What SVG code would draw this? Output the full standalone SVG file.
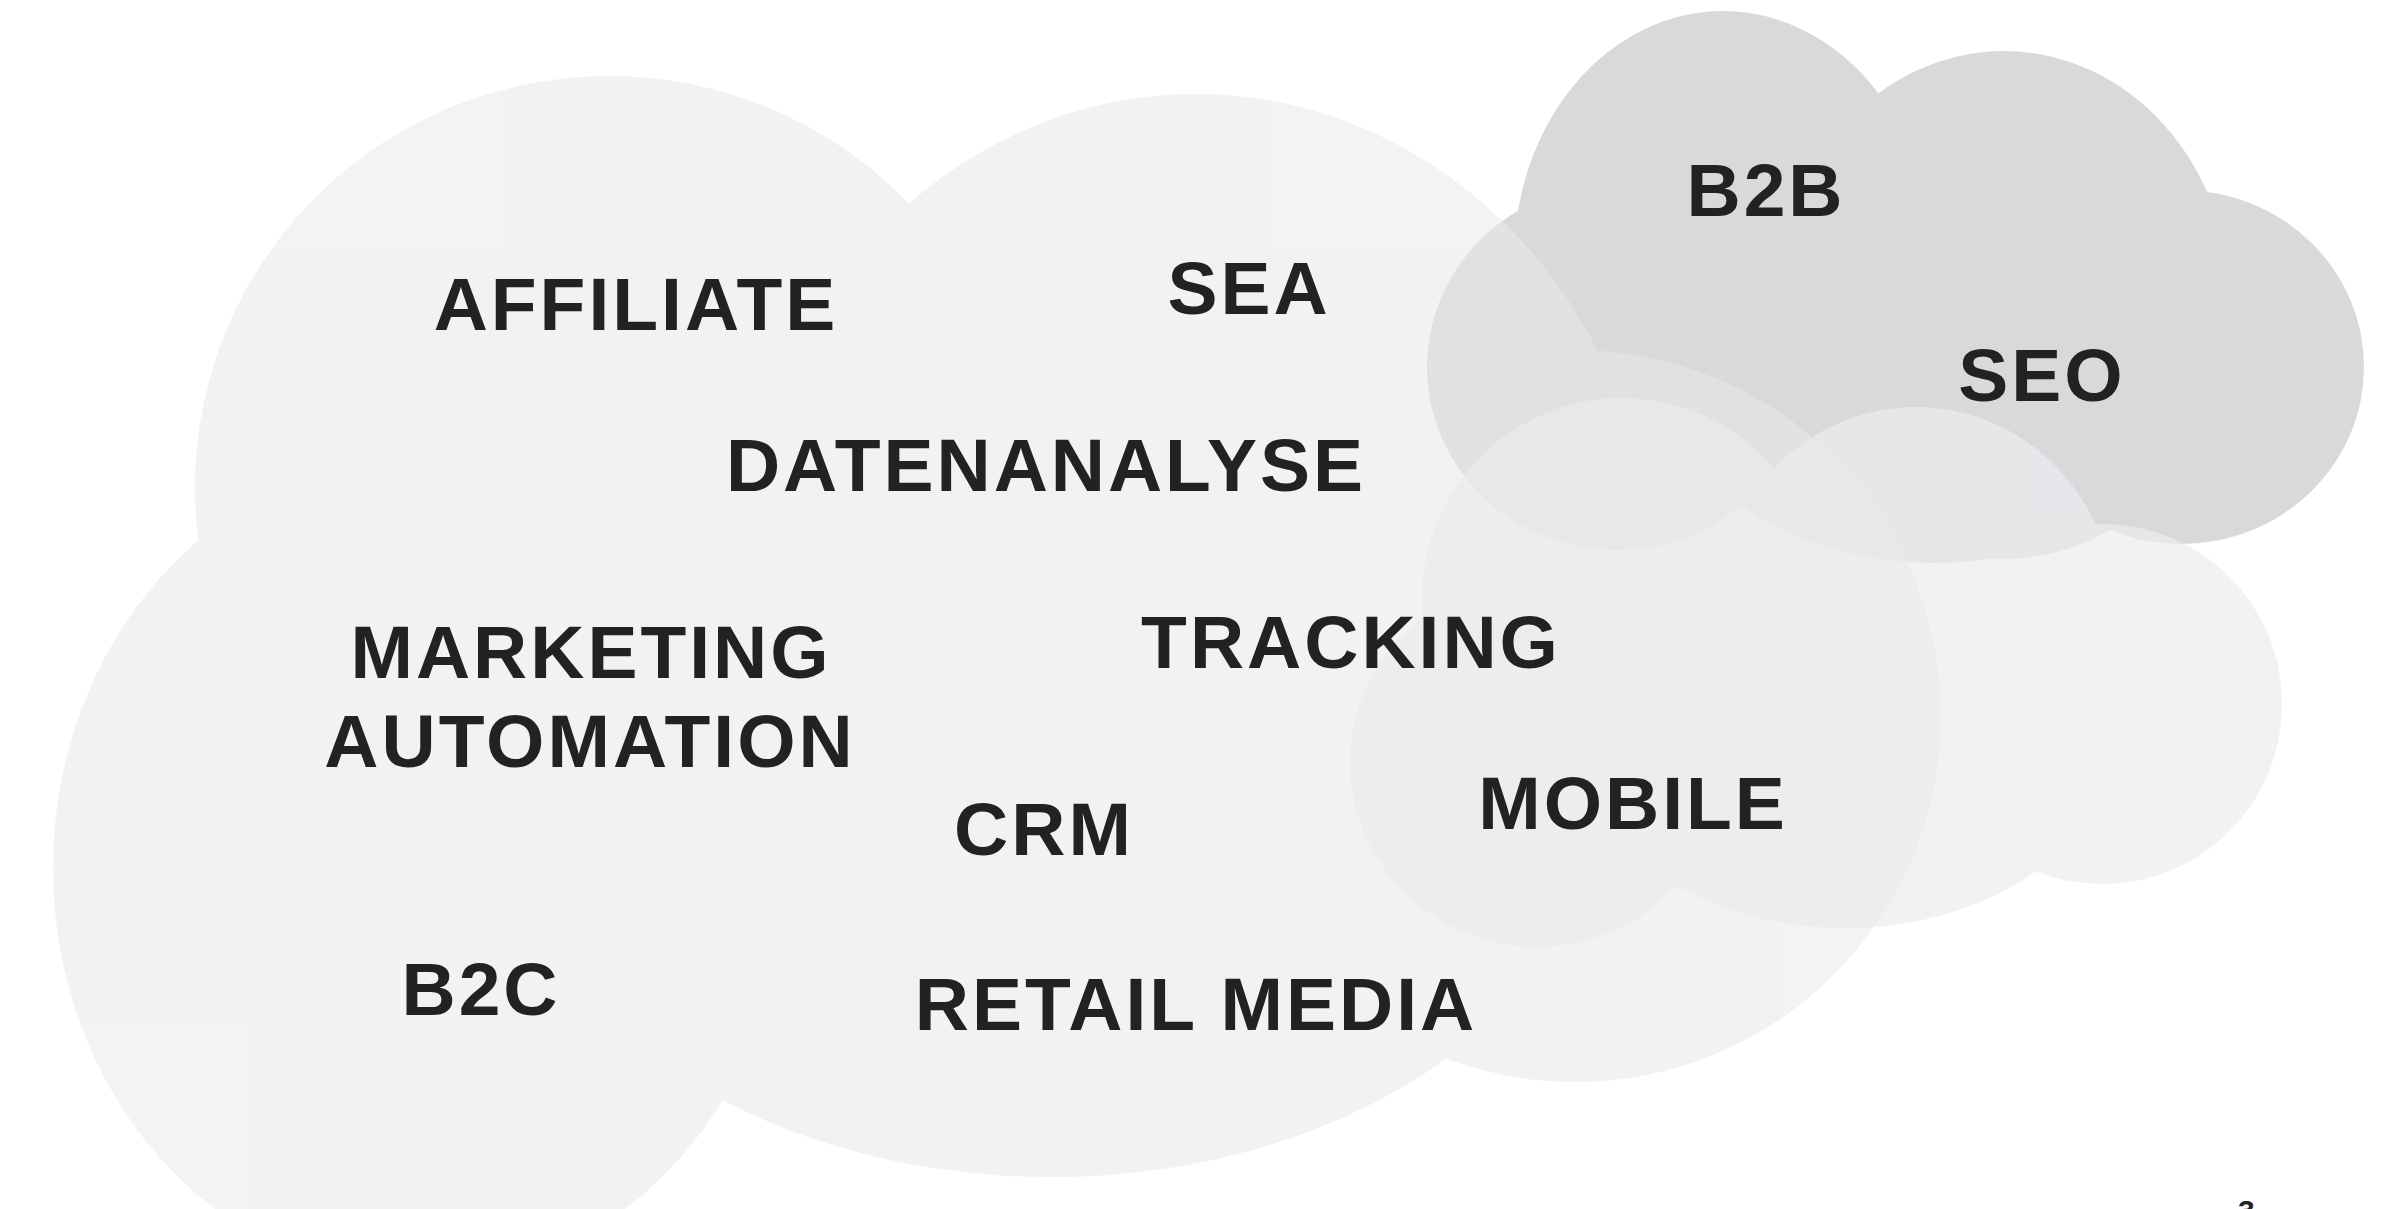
<svg xmlns="http://www.w3.org/2000/svg" width="2388" height="1209" viewBox="0 0 2388 1209">
<style>
.lbl{font-family:"Liberation Sans",Arial,sans-serif;font-weight:bold;font-size:75px;letter-spacing:3px;fill:#222222;text-anchor:middle}
.pg{font-family:"Liberation Sans",Arial,sans-serif;font-weight:bold;font-size:30px;fill:#222222}
</style>
<rect width="2388" height="1209" fill="#ffffff"/>
<g id="cloud-b2b" fill="#d9d9d9">
<ellipse cx="1723" cy="259" rx="209" ry="248"/>
<ellipse cx="2004" cy="305" rx="227" ry="254"/>
<ellipse cx="2181" cy="367" rx="183" ry="177"/>
<ellipse cx="1935" cy="360" rx="278" ry="203"/>
<ellipse cx="1617" cy="367" rx="190" ry="183"/>
</g>
<g id="cloud-mobile" fill="#ededf2" opacity="0.71">
<ellipse cx="1622" cy="598" rx="200" ry="200"/>
<ellipse cx="1916" cy="610" rx="198" ry="203"/>
<ellipse cx="2102" cy="704" rx="180" ry="180"/>
<ellipse cx="1845" cy="730" rx="272" ry="198"/>
<ellipse cx="1537" cy="763" rx="187" ry="184"/>
</g>
<g id="cloud-main" fill="#e9e9e9" opacity="0.553">
<ellipse cx="609" cy="487" rx="414" ry="411"/>
<ellipse cx="1196" cy="594" rx="460" ry="500"/>
<ellipse cx="1575" cy="716" rx="366" ry="366"/>
<ellipse cx="1051" cy="792" rx="548" ry="385"/>
<ellipse cx="420" cy="868" rx="367" ry="411"/>
</g>
<g id="connectors"></g>
<g id="n-affiliate"><text class="lbl" x="636" y="330">AFFILIATE</text></g>
<g id="n-sea"><text class="lbl" x="1249" y="314">SEA</text></g>
<g id="n-datenanalyse"><text class="lbl" x="1046" y="491">DATENANALYSE</text></g>
<g id="n-marketing-automation"><text class="lbl" x="591" y="678">MARKETING</text><text class="lbl" x="590" y="767">AUTOMATION</text></g>
<g id="n-tracking"><text class="lbl" x="1351" y="668">TRACKING</text></g>
<g id="n-crm"><text class="lbl" x="1044" y="855">CRM</text></g>
<g id="n-mobile"><text class="lbl" x="1633" y="829">MOBILE</text></g>
<g id="n-b2c"><text class="lbl" x="481" y="1015">B2C</text></g>
<g id="n-retail-media"><text class="lbl" x="1196" y="1030">RETAIL MEDIA</text></g>
<g id="n-b2b"><text class="lbl" x="1766" y="216">B2B</text></g>
<g id="n-seo"><text class="lbl" x="2042" y="401">SEO</text></g>
<g id="page-number"><text class="pg" x="2238" y="1221">3</text></g>
</svg>
